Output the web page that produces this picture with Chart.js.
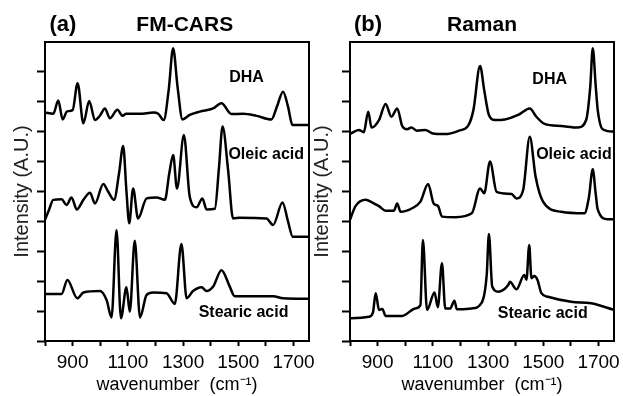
<!DOCTYPE html>
<html>
<head>
<meta charset="utf-8">
<script src="https://cdn.jsdelivr.net/npm/chart.js@4.4.1/dist/chart.umd.min.js"></script>
<style>
    body { margin: 0; background: #fff; width: 623px; height: 396px; overflow: hidden; position: relative; }
    canvas { position: absolute; top: 0; background: transparent; }
    #chart-a { left: 0; }
    #chart-b { left: 310px; }
</style>
</head>
<body>
<canvas id="chart-a" width="320" height="396"></canvas>
<canvas id="chart-b" width="313" height="396"></canvas>
<script>
// x ticks / labels
const xTickValues = [800, 900, 1000, 1100, 1200, 1300, 1400, 1500, 1600, 1700];
const xTickLabels = [900, 1100, 1300, 1500, 1700];
const yTickValues = [0, 1, 2, 3, 4, 5, 6, 7, 8, 9];

// (a) FM-CARS
const carsDhaWn  = [800, 830, 848, 864, 880, 900, 918, 939, 960, 981, 1000, 1017, 1035, 1062, 1081, 1094, 1144, 1192, 1210, 1230, 1248, 1264, 1280, 1298, 1324, 1361, 1409, 1439, 1475, 1517, 1566, 1620, 1640, 1662, 1680, 1696, 1756];
const carsDhaInt = [7.64, 7.6, 8.04, 7.41, 7.68, 7.72, 8.62, 7.28, 8.03, 7.39, 7.55, 7.78, 7.45, 7.73, 7.53, 7.6, 7.6, 7.64, 7.6, 7.39, 8.4, 9.79, 8.5, 7.41, 7.56, 7.67, 7.78, 7.95, 7.59, 7.6, 7.53, 7.41, 7.84, 8.34, 7.84, 7.22, 7.22];

const carsOleicWn  = [800, 815, 830, 860, 878, 896, 915, 939, 963, 981, 1011, 1029, 1050, 1068, 1083, 1095, 1105, 1119, 1137, 1168, 1204, 1234, 1250, 1264, 1278, 1303, 1324, 1349, 1370, 1385, 1415, 1430, 1443, 1463, 1481, 1505, 1602, 1626, 1660, 1680, 1697, 1756];
const carsOleicInt = [4.05, 4.4, 4.72, 4.74, 4.55, 4.8, 4.4, 4.72, 4.96, 4.6, 5.25, 4.99, 4.72, 5.6, 6.52, 5.0, 3.94, 5.1, 4.1, 4.77, 4.8, 4.72, 5.6, 6.22, 5.1, 6.89, 4.83, 4.47, 4.77, 4.4, 4.42, 5.8, 7.17, 5.72, 4.1, 4.12, 4.1, 3.88, 4.63, 4.0, 3.49, 3.49];

const carsStearicWn  = [800, 860, 881, 917, 939, 999, 1023, 1041, 1059, 1075, 1095, 1107, 1125, 1144, 1168, 1192, 1240, 1270, 1294, 1313, 1336, 1367, 1385, 1409, 1439, 1469, 1487, 1626, 1662, 1756];
const carsStearicInt = [1.57, 1.57, 2.04, 1.43, 1.62, 1.67, 1.37, 0.79, 3.71, 0.76, 1.8, 0.98, 3.35, 0.79, 1.54, 1.62, 1.6, 1.24, 3.24, 1.43, 1.67, 1.8, 1.67, 1.82, 2.37, 1.82, 1.5, 1.5, 1.43, 1.41];

// (b) Raman
const ramanDhaWn  = [800, 832, 850, 866, 878, 905, 929, 950, 971, 989, 1007, 1022, 1043, 1073, 1097, 1145, 1193, 1229, 1247, 1271, 1286, 1303, 1325, 1361, 1409, 1451, 1475, 1505, 1565, 1625, 1655, 1670, 1679, 1690, 1697, 1715, 1756];
const ramanDhaInt = [6.92, 7.06, 6.98, 7.67, 7.14, 7.39, 7.93, 7.5, 7.78, 7.19, 7.08, 7.14, 7.03, 7.06, 6.95, 6.92, 7.03, 7.22, 7.73, 9.2, 8.39, 7.56, 7.39, 7.41, 7.56, 7.78, 7.5, 7.26, 7.19, 7.14, 7.39, 8.5, 9.79, 8.5, 7.73, 7.08, 7.0];

const ramanOleicWn  = [800, 820, 857, 881, 905, 929, 959, 971, 983, 1025, 1055, 1083, 1103, 1119, 1133, 1181, 1241, 1271, 1286, 1307, 1331, 1385, 1403, 1427, 1451, 1472, 1499, 1565, 1649, 1665, 1679, 1690, 1697, 1733, 1756];
const ramanOleicInt = [4.05, 4.51, 4.72, 4.63, 4.51, 4.36, 4.36, 4.6, 4.32, 4.44, 4.66, 5.25, 4.6, 4.51, 4.16, 4.14, 4.27, 5.1, 4.94, 6.0, 4.99, 4.92, 4.77, 5.05, 6.83, 5.5, 4.66, 4.32, 4.27, 4.8, 5.74, 4.9, 4.4, 4.07, 4.07];

const ramanStearicWn  = [800, 868, 883, 893, 905, 917, 929, 989, 1037, 1055, 1064, 1079, 1106, 1118, 1133, 1145, 1163, 1178, 1187, 1241, 1277, 1295, 1303, 1315, 1337, 1373, 1379, 1403, 1431, 1439, 1449, 1457, 1467, 1479, 1493, 1517, 1601, 1673, 1756];
const ramanStearicInt = [0.76, 0.81, 0.95, 1.6, 1.04, 1.07, 0.84, 0.84, 1.09, 1.2, 3.38, 1.04, 1.62, 1.13, 2.6, 1.09, 1.09, 1.35, 1.06, 1.09, 1.28, 2.2, 3.58, 1.82, 1.65, 1.87, 1.98, 1.73, 2.21, 2.05, 3.21, 2.1, 2.17, 2.04, 1.6, 1.48, 1.31, 1.26, 1.04];

const FONT = "'Liberation Sans', Arial, sans-serif";

function toPoints(wn, vals) {
    return wn.map((x, i) => ({ x: x, y: vals[i] }));
}

function traceDataset(wn, vals) {
    return {
        data: toPoints(wn, vals),
        borderColor: '#000',
        borderWidth: 2.5,
        pointRadius: 0,
        cubicInterpolationMode: 'monotone',
        fill: false
    };
}

// frame + text labels drawn on top
const panelDecor = {
    id: 'panelDecor',
    afterDraw(chart, args, opts) {
        const { ctx, chartArea: a, scales } = chart;
        ctx.save();
        ctx.strokeStyle = '#000';
        ctx.lineWidth = 2;
        ctx.strokeRect(a.left, a.top, a.right - a.left, a.bottom - a.top);

        ctx.fillStyle = '#000';
        ctx.textAlign = 'center';
        ctx.textBaseline = 'middle';
        ctx.font = `bold 22px ${FONT}`;
        ctx.fillText(opts.tag, scales.x.getPixelForValue(865), a.top - 17);
        ctx.font = `bold 21px ${FONT}`;
        ctx.fillText(opts.title, scales.x.getPixelForValue(opts.titleAt), a.top - 17);

        ctx.font = `bold 16px ${FONT}`;
        opts.notes.forEach(n => {
            ctx.fillText(n.text, scales.x.getPixelForValue(n.x), scales.y.getPixelForValue(n.y));
        });
        ctx.restore();
    }
};

function noPad(s) {
    s.paddingLeft = 0;
    s.paddingRight = 0;
    s.paddingTop = 0;
    s.paddingBottom = 0;
}

function makePanel(canvasId, datasets, cfg) {
    const ctx = document.getElementById(canvasId).getContext('2d');
    return new Chart(ctx, {
        type: 'line',
        data: { datasets: datasets },
        options: {
            responsive: false,
            animation: false,
            layout: { padding: { top: 42, right: cfg.rightPad, left: 0, bottom: 0 } },
            plugins: {
                legend: { display: false },
                tooltip: { enabled: false },
                panelDecor: { tag: cfg.tag, title: cfg.title, titleAt: cfg.titleAt, notes: cfg.notes }
            },
            scales: {
                x: {
                    type: 'linear',
                    min: 800,
                    max: 1756,
                    afterBuildTicks: s => { s.ticks = xTickValues.map(v => ({ value: v })); },
                    afterFit: s => { s.height = 55; noPad(s); },
                    border: { display: false },
                    grid: { drawOnChartArea: false, drawTicks: true, tickLength: 5, tickWidth: 2, tickColor: '#000' },
                    ticks: {
                        autoSkip: false,
                        maxRotation: 0,
                        padding: 5,
                        color: '#000',
                        font: { family: FONT, size: 19 },
                        callback: v => xTickLabels.includes(v) ? String(v) : ''
                    },
                    title: {
                        display: true,
                        text: 'wavenumber  (cm\u207B\u00B9)',
                        color: '#000',
                        font: { family: FONT, size: 18 },
                        padding: { top: 0, bottom: 0 }
                    }
                },
                y: {
                    min: 0,
                    max: 10,
                    afterBuildTicks: s => { s.ticks = yTickValues.map(v => ({ value: v })); },
                    afterFit: s => { s.width = cfg.yWidth; noPad(s); },
                    border: { display: false },
                    grid: { drawOnChartArea: false, drawTicks: true, tickLength: 8, tickWidth: 2, tickColor: '#000' },
                    ticks: { callback: () => '', padding: 0 },
                    title: {
                        display: true,
                        text: 'Intensity (A.U.)',
                        color: '#222',
                        font: { family: FONT, size: 20 },
                        padding: { top: cfg.yTitlePad, bottom: 0 }
                    }
                }
            }
        },
        plugins: [panelDecor]
    });
}

makePanel('chart-a', [
    traceDataset(carsDhaWn, carsDhaInt),
    traceDataset(carsOleicWn, carsOleicInt),
    traceDataset(carsStearicWn, carsStearicInt)
], {
    rightPad: 11, yWidth: 45, yTitlePad: 10,
    tag: '(a)', title: 'FM-CARS', titleAt: 1306,
    notes: [
        { text: 'DHA', x: 1530, y: 8.8 },
        { text: 'Oleic acid', x: 1601, y: 6.22 },
        { text: 'Stearic acid', x: 1519, y: 0.94 }
    ]
});

makePanel('chart-b', [
    traceDataset(ramanDhaWn, ramanDhaInt),
    traceDataset(ramanOleicWn, ramanOleicInt),
    traceDataset(ramanStearicWn, ramanStearicInt)
], {
    rightPad: 9, yWidth: 40, yTitlePad: 0,
    tag: '(b)', title: 'Raman', titleAt: 1278,
    notes: [
        { text: 'DHA', x: 1523, y: 8.73 },
        { text: 'Oleic acid', x: 1611, y: 6.22 },
        { text: 'Stearic acid', x: 1498, y: 0.9 }
    ]
});
</script>
</body>
</html>
